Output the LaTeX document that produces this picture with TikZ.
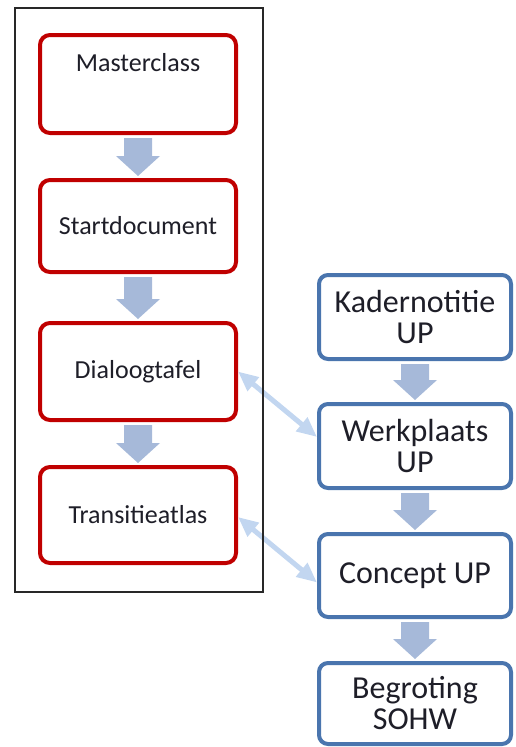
\documentclass[tikz,border=0pt]{standalone}
\usepackage{fontspec}
\setmainfont{Carlito}
\usetikzlibrary{calc,arrows.meta}

\definecolor{boxred}{RGB}{192,0,0}
\definecolor{boxblue}{RGB}{74,117,174}
\definecolor{flowfill}{RGB}{166,185,217}
\definecolor{linkblue}{RGB}{194,214,240}
\definecolor{inktext}{RGB}{30,30,40}
\definecolor{framegray}{RGB}{40,40,40}

\tikzset{
  redbox/.style={draw=boxred, line width=4pt, rounded corners=10pt, fill=white,
    minimum width=196pt, text=inktext, align=center,
    font=\fontsize{26}{30}\selectfont},
  bluebox/.style={draw=boxblue, line width=4pt, rounded corners=9pt, fill=white,
    minimum width=192pt, text=inktext, align=center, inner sep=0pt,
    font=\fontsize{32}{31}\selectfont},
  flowarrow/.style={fill=flowfill},
  linkarrow/.style={draw=linkblue, line width=5pt,
    {Triangle[length=20pt,width=17pt]}-{Triangle[length=20pt,width=17pt]}},
  frameline/.style={draw=framegray, line width=1.5pt}
}

% broad downward arrow from the bottom of one box to the top of the next
\newcommand\flowstep[2]{%
  \fill[flowarrow] let \p1=(#1.south), \p2=(#2.north) in
    (\x1-14pt,\y1-3pt) -- (\x1+14pt,\y1-3pt) -- (\x1+14pt,\y2+22pt)
    -- (\x1+22pt,\y2+22pt) -- (\x1,\y2+2pt) -- (\x1-22pt,\y2+22pt)
    -- (\x1-14pt,\y2+22pt) -- cycle;}

\begin{document}
\begin{tikzpicture}[x=1pt,y=-1pt]
\useasboundingbox (0,0) rectangle (515,747);

% left column
\node[redbox, minimum height=98pt] (master) at (138,84) {};
\node[text=inktext, font=\fontsize{26}{30}\selectfont] (masterlabel) at (138,63) {Masterclass};
\node[redbox, minimum height=92pt] (start) at (138,226) {Startdocument};
\node[redbox, minimum height=97pt] (dialoog) at (138,371.5) {Dialoogtafel};
\node[redbox, minimum height=96pt] (trans) at (138,515) {Transitieatlas};

% right column
\node[bluebox, minimum height=84pt] (kader) at (415,317) {Kadernotitie\\UP};
\node[bluebox, minimum height=84pt] (werk) at (415,446) {Werkplaats\\UP};
\node[bluebox, minimum height=83pt] (concept) at (415,575.5) {Concept UP};
\node[bluebox, minimum height=81pt] (begroting) at (415,703.5) {Begroting\\SOHW};

% flow arrows
\flowstep{master}{start}
\flowstep{start}{dialoog}
\flowstep{dialoog}{trans}
\flowstep{kader}{werk}
\flowstep{werk}{concept}
\flowstep{concept}{begroting}

% links between the columns
\draw[linkarrow] (dialoog.east) -- ([yshift=9pt]werk.west);
\draw[linkarrow] ([yshift=-2pt]trans.east) -- ([yshift=-7pt]concept.west);

% frame around the left column
\draw[frameline] (15,8) rectangle (263,592);
\end{tikzpicture}
\end{document}
